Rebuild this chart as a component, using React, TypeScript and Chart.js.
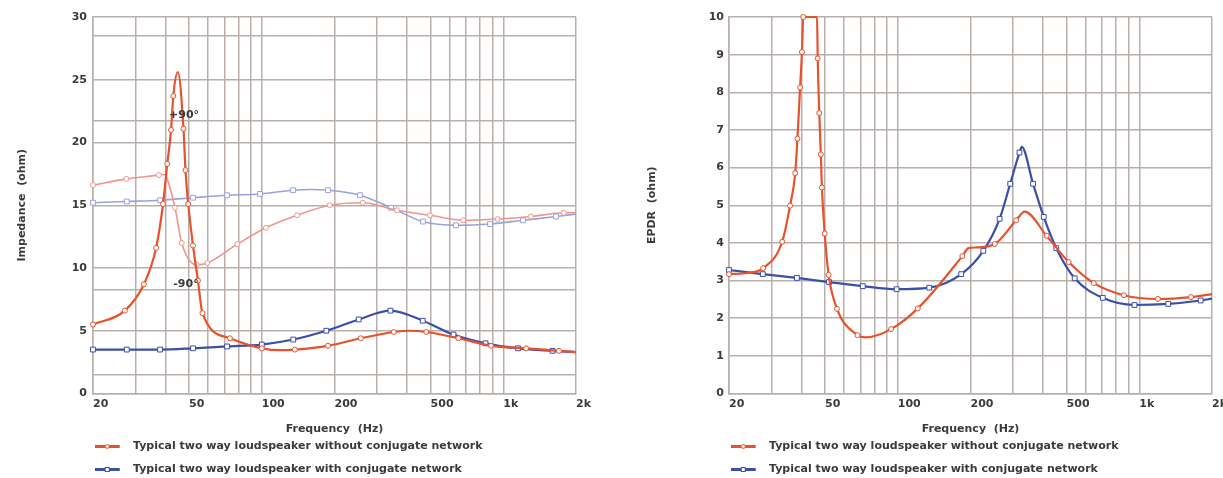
import React, { useEffect, useRef } from 'react';
import { Chart, registerables } from 'chart.js';

Chart.register(...registerables);

// ---------- axes ----------
const xGridFreq = [20, 30, 40, 50, 60, 70, 80, 90, 100, 200, 300, 400, 500, 600, 700, 800, 900, 1000, 2000];
const xTickValues = [20, 50, 100, 200, 500, 1000, 2000];
const xTickLabels = ['20', '50', '100', '200', '500', '1k', '2k'];
const impYTicks = [0, 5, 10, 15, 20, 25, 30];
const impPhaseGrid = [1.5, 8.3, 21.7, 28.5];

// ---------- Impedance chart: without conjugate network (red) ----------
const impRedMarkF = [20, 27.1, 32.5, 36.5, 39, 40.6, 42.1, 43, 47.4, 48.3, 49.6, 51.9, 54.4, 56.8, 73.8, 100, 137, 188, 257, 352, 480, 652, 889, 1244, 1700];
const impRedMarkV = [5.5, 6.6, 8.7, 11.6, 15.1, 18.3, 21.0, 23.7, 21.1, 17.8, 15.1, 11.8, 9.0, 6.4, 4.4, 3.6, 3.5, 3.8, 4.4, 4.9, 4.9, 4.4, 3.8, 3.6, 3.4];
const impRedExtraF = [44.9, 120, 410, 2000];
const impRedExtraV = [25.6, 3.45, 5.0, 3.3];

// ---------- Impedance chart: with conjugate network (blue) ----------
const impBlueMarkF = [20, 27.6, 37.9, 51.9, 71.8, 100, 135, 185, 252, 341, 464, 622, 844, 1151, 1600];
const impBlueMarkV = [3.5, 3.5, 3.5, 3.6, 3.75, 3.9, 4.3, 5.0, 5.9, 6.6, 5.8, 4.7, 4.0, 3.6, 3.4];
const impBlueExtraF = [2000];
const impBlueExtraV = [3.3];

// ---------- Impedance chart: phase traces (light) ----------
const phRedMarkF = [20, 27.5, 37.5, 43.7, 46.6, 53.8, 59.5, 79.2, 104, 140, 191, 262, 363, 497, 683, 947, 1300, 1780];
const phRedMarkV = [16.6, 17.1, 17.4, 14.8, 12.0, 10.25, 10.4, 11.9, 13.2, 14.2, 15.0, 15.2, 14.6, 14.2, 13.8, 13.9, 14.1, 14.4];
const phRedExtraF = [39.3, 2000];
const phRedExtraV = [17.45, 14.4];

const phBlueMarkF = [20, 27.6, 37.9, 51.9, 71.8, 98.3, 134.7, 188, 255, 343, 465, 637, 881, 1207, 1653];
const phBlueMarkV = [15.2, 15.3, 15.4, 15.6, 15.8, 15.9, 16.2, 16.2, 15.8, 14.8, 13.7, 13.4, 13.5, 13.8, 14.1];
const phBlueExtraF = [160, 2000];
const phBlueExtraV = [16.25, 14.3];

const impNoteF = [41.3, 43];
const impNoteV = [22.2, 8.7];
const impNoteText = ['+90°', '-90°'];

// ---------- EPDR chart ----------
const epdrRedMarkF = [20, 27.7, 33.2, 35.8, 37.6, 38.4, 39.4, 40.1, 40.6, 46.6, 47.3, 48.0, 48.5, 49.8, 51.7, 56, 68.1, 93.8, 121, 185, 252, 309, 413, 510, 648, 863, 1194, 1636];
const epdrRedMarkV = [3.17, 3.33, 4.03, 4.99, 5.85, 6.77, 8.13, 9.07, 10, 8.9, 7.45, 6.35, 5.47, 4.25, 3.15, 2.25, 1.55, 1.71, 2.26, 3.65, 3.97, 4.6, 4.19, 3.49, 2.93, 2.61, 2.51, 2.56];
const epdrRedExtraF = [24, 46.3, 73.3, 196, 212, 335, 2000];
const epdrRedExtraV = [3.2, 10, 1.49, 3.86, 3.88, 4.83, 2.64];

const epdrBlueMarkF = [20, 27.6, 38.2, 51.9, 71.6, 98.9, 135, 183, 226, 264, 292, 319, 363, 402, 453, 540, 706, 955, 1317, 1795];
const epdrBlueMarkV = [3.28, 3.17, 3.07, 2.96, 2.85, 2.77, 2.81, 3.17, 3.79, 4.64, 5.57, 6.4, 5.57, 4.69, 3.86, 3.06, 2.54, 2.35, 2.38, 2.47];
const epdrBlueExtraF = [326, 2000];
const epdrBlueExtraV = [6.55, 2.52];

const seriesNames = [
  'Typical two way loudspeaker without conjugate network',
  'Typical two way loudspeaker with conjugate network',
];

// ---------- styling ----------
const FONT = 'DejaVu Sans';
const TEXT = '#3a3a3a';
const GRID = '#b8afab';
const RED = '#e8512a';
const BLUE = '#3b4ea8';
const PINK = '#f1958a';
const LBLUE = '#9aa2dc';

type Pt = { x: number; y: number; m: boolean };
function buildSeries(mf: number[], mv: number[], ef: number[], ev: number[]): Pt[] {
  const pts: Pt[] = mf.map((x, i) => ({ x, y: mv[i], m: true }))
    .concat(ef.map((x, i) => ({ x, y: ev[i], m: false })));
  pts.sort((a, b) => a.x - b.x);
  return pts;
}

function lineDataset(label: string, data: Pt[], color: string, width: number, style: 'circle' | 'rect', r: number, order: number) {
  return {
    label,
    data,
    borderColor: color,
    backgroundColor: '#ffffff',
    borderWidth: width,
    pointStyle: style,
    pointRadius: (c: any) => (c.raw && c.raw.m ? r : 0),
    pointHoverRadius: 0,
    pointBackgroundColor: '#ffffff',
    pointBorderColor: color,
    pointBorderWidth: 1,
    cubicInterpolationMode: 'monotone' as const,
    fill: false,
    clip: 4,
    order,
  };
}

function legendSymbol(color: string, style: 'circle' | 'rect') {
  const c = document.createElement('canvas');
  c.width = 43;
  c.height = 9;
  const g = c.getContext('2d')!;
  g.strokeStyle = color;
  g.lineWidth = 3;
  g.beginPath();
  g.moveTo(0, 4.5);
  g.lineTo(25, 4.5);
  g.stroke();
  g.fillStyle = '#fff';
  g.lineWidth = 1;
  if (style === 'circle') {
    g.beginPath();
    g.arc(12.5, 4.5, 2, 0, Math.PI * 2);
    g.fill();
    g.stroke();
  } else {
    g.fillRect(10.5, 2.5, 4, 4);
    g.strokeRect(10.5, 2.5, 4, 4);
  }
  return c;
}

const tickFont = { family: FONT, size: 11, weight: 'bold' as const };

function xAxis() {
  return {
    type: 'logarithmic' as const,
    min: 20,
    max: 2000,
    afterBuildTicks: (s: any) => {
      s.ticks = xGridFreq.map((v) => ({ value: v }));
    },
    ticks: {
      autoSkip: false,
      maxRotation: 0,
      minRotation: 0,
      align: 'start' as const,
      padding: 4,
      color: TEXT,
      font: tickFont,
      callback: (v: any) => {
        const i = xTickValues.indexOf(Number(v));
        return i >= 0 ? xTickLabels[i] : '';
      },
    },
    grid: { color: GRID, lineWidth: 1.5, drawTicks: false },
    border: { color: GRID, width: 1.5 },
    title: {
      display: true,
      text: 'Frequency  (Hz)',
      color: TEXT,
      font: { family: FONT, size: 11, weight: 'bold' as const },
      padding: { top: 8.2, bottom: -7.1 },
    },
  };
}

function legendOptions(symbols: HTMLCanvasElement[]) {
  return {
    display: true,
    position: 'bottom' as const,
    align: 'start' as const,
    fullSize: false,
    labels: {
      usePointStyle: true,
      pointStyleWidth: 22.5,
      padding: 12,
      color: TEXT,
      font: { family: FONT, size: 11, weight: 'bold' as const },
      generateLabels: (chart: any) =>
        (Chart.defaults.plugins.legend.labels.generateLabels as any)(chart).map((it: any) => ({
          ...it,
          pointStyle: symbols[it.datasetIndex] || it.pointStyle,
        })),
      filter: (it: any) => it.datasetIndex < 2,
    },
  };
}

const notesPlugin = {
  id: 'impNotes',
  afterDatasetsDraw(chart: any) {
    const { ctx, scales } = chart;
    ctx.save();
    ctx.font = `bold 11px "${FONT}"`;
    ctx.fillStyle = TEXT;
    ctx.textAlign = 'left';
    ctx.textBaseline = 'middle';
    impNoteText.forEach((t, i) => {
      ctx.fillText(t, scales.x.getPixelForValue(impNoteF[i]), scales.y.getPixelForValue(impNoteV[i]));
    });
    ctx.restore();
  },
};

export default function App() {
  const leftRef = useRef<HTMLCanvasElement>(null);
  const rightRef = useRef<HTMLCanvasElement>(null);

  useEffect(() => {
    const symbols = [legendSymbol(RED, 'circle'), legendSymbol(BLUE, 'rect')];

    const left = new Chart(leftRef.current!, {
      type: 'line',
      data: {
        datasets: [
          lineDataset(seriesNames[0], buildSeries(impRedMarkF, impRedMarkV, impRedExtraF, impRedExtraV), RED, 2.2, 'circle', 2.5, 0),
          lineDataset(seriesNames[1], buildSeries(impBlueMarkF, impBlueMarkV, impBlueExtraF, impBlueExtraV), BLUE, 2.2, 'rect', 3.4, 0),
          lineDataset('Phase without', buildSeries(phRedMarkF, phRedMarkV, phRedExtraF, phRedExtraV), PINK, 1.6, 'circle', 2.5, 1),
          lineDataset('Phase with', buildSeries(phBlueMarkF, phBlueMarkV, phBlueExtraF, phBlueExtraV), LBLUE, 1.6, 'rect', 3.4, 1),
        ] as any,
      },
      options: {
        responsive: false,
        animation: false,
        layout: { padding: { left: 11, right: 34, top: 17, bottom: 0 } },
        scales: {
          x: xAxis() as any,
          y: {
            type: 'linear',
            min: 0,
            max: 30,
            afterBuildTicks: (s: any) => {
              s.ticks = impYTicks.concat(impPhaseGrid).sort((a, b) => a - b).map((v) => ({ value: v }));
            },
            afterFit: (s: any) => {
              s.width = 82;
            },
            ticks: {
              padding: 6,
              color: TEXT,
              font: tickFont,
              callback: (v: any) => (impYTicks.indexOf(Number(v)) >= 0 ? String(v) : ''),
            },
            grid: { color: GRID, lineWidth: 1.5, drawTicks: false },
            border: { color: GRID, width: 1.5 },
            title: {
              display: true,
              text: 'Impedance  (ohm)',
              color: TEXT,
              font: { family: FONT, size: 11, weight: 'bold' },
              padding: { top: 4.4, bottom: 0 },
            },
          } as any,
        },
        plugins: {
          legend: legendOptions(symbols) as any,
          tooltip: { enabled: false },
        },
      },
      plugins: [notesPlugin],
    });

    const right = new Chart(rightRef.current!, {
      type: 'line',
      data: {
        datasets: [
          lineDataset(seriesNames[0], buildSeries(epdrRedMarkF, epdrRedMarkV, epdrRedExtraF, epdrRedExtraV), RED, 2.2, 'circle', 2.5, 0),
          lineDataset(seriesNames[1], buildSeries(epdrBlueMarkF, epdrBlueMarkV, epdrBlueExtraF, epdrBlueExtraV), BLUE, 2.2, 'rect', 3.4, 0),
        ] as any,
      },
      options: {
        responsive: false,
        animation: false,
        layout: { padding: { left: 20, right: 0, top: 17, bottom: 0 } },
        scales: {
          x: xAxis() as any,
          y: {
            type: 'linear',
            min: 0,
            max: 10,
            afterFit: (s: any) => {
              s.width = 99;
            },
            ticks: { stepSize: 1, padding: 5, color: TEXT, font: tickFont },
            grid: { color: GRID, lineWidth: 1.5, drawTicks: false },
            border: { color: GRID, width: 1.5 },
            title: {
              display: true,
              text: 'EPDR  (ohm)',
              color: TEXT,
              font: { family: FONT, size: 11, weight: 'bold' },
              padding: { top: 15.4, bottom: 0 },
            },
          } as any,
        },
        plugins: {
          legend: legendOptions(symbols) as any,
          tooltip: { enabled: false },
        },
      },
    });

    return () => {
      left.destroy();
      right.destroy();
    };
  }, []);

  return (
    <div
      style={{
        position: 'fixed',
        left: 0,
        top: 0,
        width: 1223,
        height: 478,
        overflow: 'hidden',
        background: '#ffffff',
      }}
    >
      <canvas ref={leftRef} width={610} height={485} style={{ position: 'absolute', left: 0, top: 0, display: 'block' }} />
      <canvas ref={rightRef} width={621} height={485} style={{ position: 'absolute', left: 610, top: 0, display: 'block' }} />
    </div>
  );
}
